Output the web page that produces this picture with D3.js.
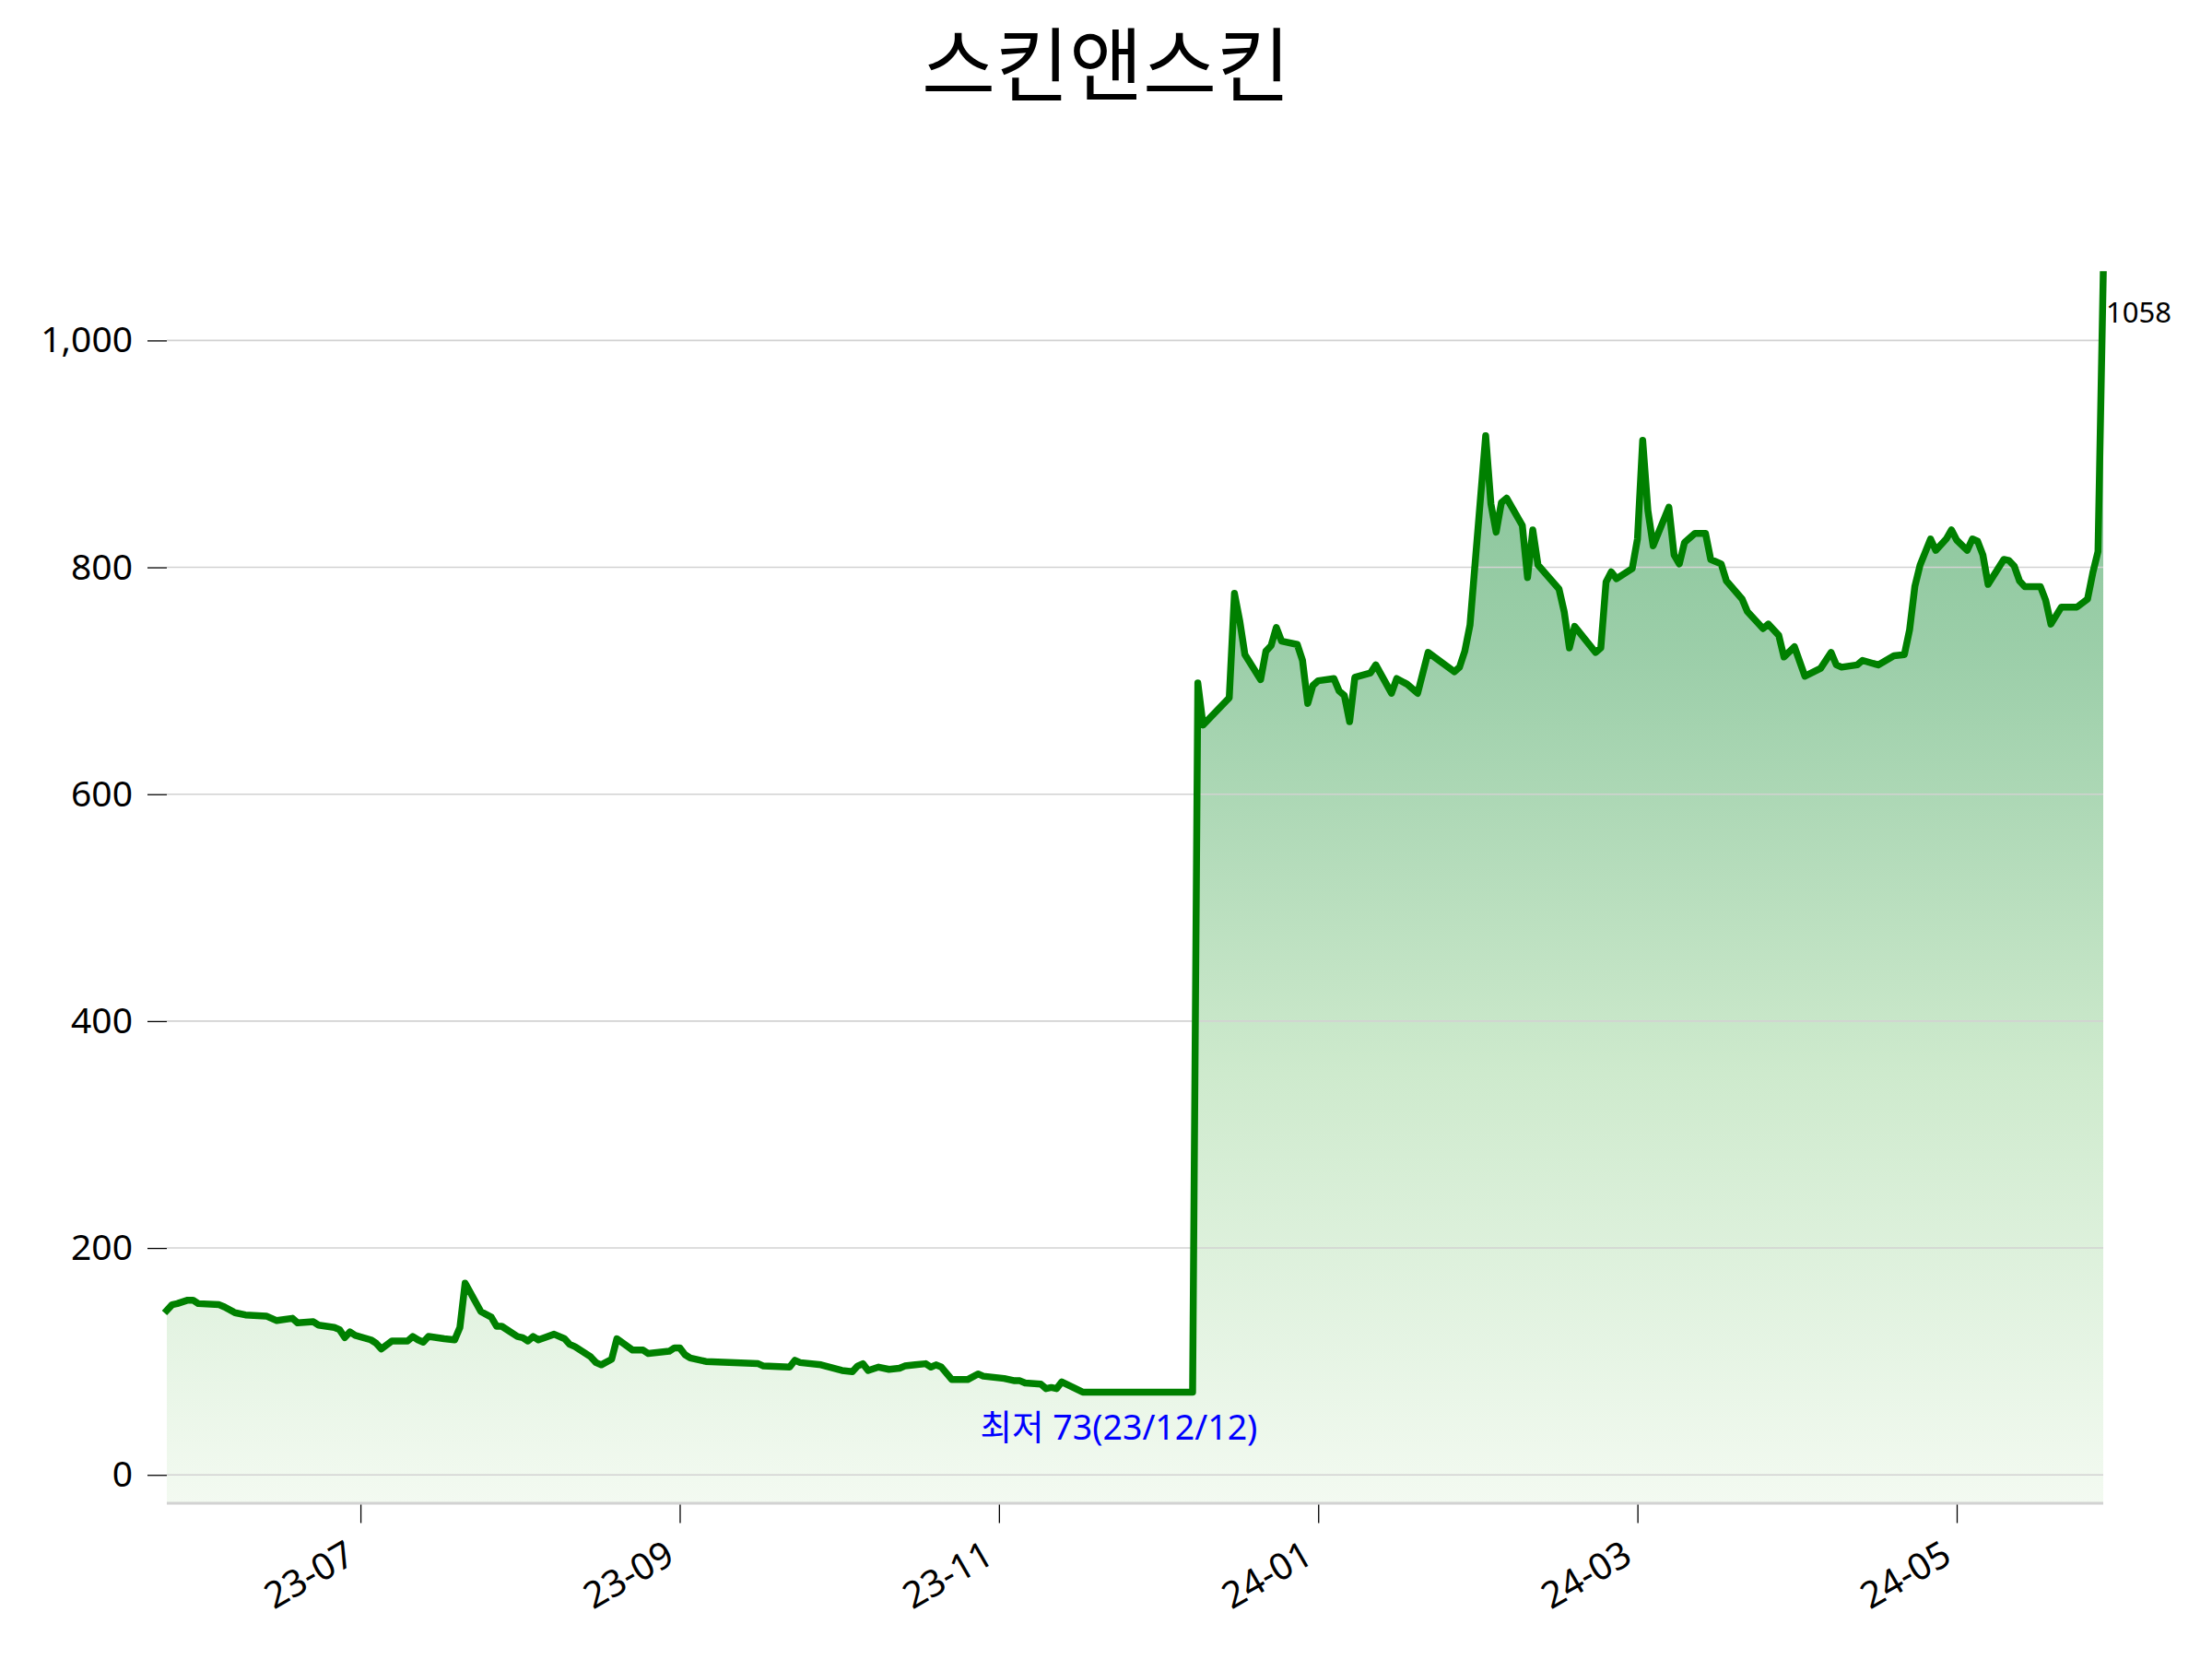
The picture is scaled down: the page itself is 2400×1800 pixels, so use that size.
<!DOCTYPE html>
<html>
<head>
<meta charset="utf-8">
<script src="https://cdn.jsdelivr.net/npm/d3@7"></script>
<style>
  html, body { margin: 0; padding: 0; background: #ffffff; }
  svg { display: block; }
</style>
</head>
<body>
<svg id="chart" width="2400" height="1800"></svg>
<script>
// ---------------- data ----------------
const chartTitle = "스킨앤스킨";
const minLabelWord = "최저";

const dates = [
  "2023-05-30","2023-05-31","2023-06-01","2023-06-03","2023-06-04","2023-06-05","2023-06-09","2023-06-10","2023-06-12",
  "2023-06-14","2023-06-18","2023-06-19","2023-06-20","2023-06-23","2023-06-24","2023-06-27","2023-06-28",
  "2023-07-01","2023-07-02","2023-07-03","2023-07-04","2023-07-05","2023-07-08","2023-07-09","2023-07-10",
  "2023-07-12","2023-07-15","2023-07-16","2023-07-17","2023-07-18","2023-07-19","2023-07-22","2023-07-24",
  "2023-07-25","2023-07-26","2023-07-29","2023-07-31","2023-08-01","2023-08-02","2023-08-05","2023-08-06",
  "2023-08-07","2023-08-08","2023-08-09","2023-08-12","2023-08-14","2023-08-15","2023-08-16","2023-08-19",
  "2023-08-20","2023-08-21","2023-08-23","2023-08-24","2023-08-27","2023-08-29","2023-08-30","2023-09-03",
  "2023-09-04","2023-09-05","2023-09-06","2023-09-07","2023-09-10","2023-09-20","2023-09-21","2023-09-26",
  "2023-09-27","2023-09-28","2023-10-02","2023-10-06","2023-10-08","2023-10-09","2023-10-10","2023-10-11",
  "2023-10-13","2023-10-15","2023-10-17","2023-10-18","2023-10-20","2023-10-22","2023-10-23","2023-10-24",
  "2023-10-25","2023-10-27","2023-10-30","2023-11-01","2023-11-02","2023-11-06","2023-11-08","2023-11-09",
  "2023-11-10","2023-11-13","2023-11-14","2023-11-15","2023-11-16","2023-11-17","2023-11-21","2023-12-12",
  "2023-12-13","2023-12-14","2023-12-19","2023-12-20","2023-12-21","2023-12-22","2023-12-25","2023-12-26",
  "2023-12-27","2023-12-28","2023-12-29","2024-01-01","2024-01-02","2024-01-03","2024-01-04","2024-01-05",
  "2024-01-08","2024-01-09","2024-01-10","2024-01-11","2024-01-12","2024-01-15","2024-01-16","2024-01-19",
  "2024-01-20","2024-01-22","2024-01-24","2024-01-26","2024-01-31","2024-02-01","2024-02-02","2024-02-03",
  "2024-02-06","2024-02-07","2024-02-08","2024-02-09","2024-02-10","2024-02-13","2024-02-14","2024-02-15",
  "2024-02-16","2024-02-20","2024-02-21","2024-02-22","2024-02-23","2024-02-27","2024-02-28","2024-02-29",
  "2024-03-01","2024-03-02","2024-03-05","2024-03-06","2024-03-07","2024-03-08","2024-03-09","2024-03-12",
  "2024-03-13","2024-03-14","2024-03-15","2024-03-17","2024-03-19","2024-03-20","2024-03-22","2024-03-23",
  "2024-03-26","2024-03-27","2024-03-30","2024-03-31","2024-04-02","2024-04-03","2024-04-05","2024-04-07",
  "2024-04-10","2024-04-12","2024-04-13","2024-04-14","2024-04-17","2024-04-18","2024-04-21","2024-04-24",
  "2024-04-26","2024-04-27","2024-04-28","2024-04-29","2024-05-01","2024-05-02","2024-05-04","2024-05-05",
  "2024-05-06","2024-05-08","2024-05-09","2024-05-10","2024-05-11","2024-05-12","2024-05-15","2024-05-16",
  "2024-05-17","2024-05-18","2024-05-19","2024-05-22","2024-05-23","2024-05-24","2024-05-26","2024-05-29",
  "2024-05-31","2024-06-01","2024-06-02","2024-06-03"
];

const prices = [
  145,150,151,154,154,151,150,148,143,
  141,140,138,136,138,134,135,132,
  130,128,121,126,123,119,116,111,
  118,118,122,119,117,122,120,119,
  130,169,144,139,131,131,122,121,
  118,122,119,124,120,115,113,104,
  99,97,102,120,110,110,107,109,
  112,112,106,103,100,98,96,95,
  101,99,97,92,91,96,98,92,
  95,93,94,96,97,98,95,97,
  95,84,84,89,87,85,83,83,
  81,80,76,77,76,82,73,73,
  698,661,685,777,753,723,701,726,
  731,747,735,732,718,680,696,700,
  702,691,687,664,703,707,714,689,
  702,697,689,725,708,712,726,749,
  916,856,831,857,861,837,791,833,
  802,781,761,729,748,725,729,787,
  796,790,799,825,912,850,819,853,
  811,803,822,830,830,807,803,788,
  772,761,746,750,740,721,730,704,
  711,725,714,712,714,718,714,722,
  723,745,783,802,825,815,825,833,
  824,815,825,823,811,785,807,806,
  801,788,783,783,771,750,765,765,
  772,795,814,1058
];

const yTicks = [0, 200, 400, 600, 800, 1000];
const xTickDates = ["2023-07-06", "2023-09-05", "2023-11-05", "2024-01-05", "2024-03-06", "2024-05-06"];
const yFloor = -25;

// ---------------- drawing ----------------
const parse = d3.timeParse("%Y-%m-%d");
const data = dates.map((d, i) => ({ date: parse(d), value: prices[i] }));

const svg = d3.select("#chart");
const plotLeft = 181, plotRight = 2282, plotBottom = 1631, plotTop = 298;
const fontLatin = "'Noto Sans', 'Noto Sans CJK KR', sans-serif";

svg.append("rect").attr("width", 2400).attr("height", 1800).attr("fill", "#ffffff");

const x = d3.scaleTime()
  .domain(d3.extent(data, d => d.date))
  .range([plotLeft, plotRight]);
const y = d3.scaleLinear()
  .domain([yFloor, d3.max(prices)])
  .range([plotBottom, plotTop]);

// gradient fill
const defs = svg.append("defs");
const grad = defs.append("linearGradient")
  .attr("id", "fillGrad")
  .attr("gradientUnits", "userSpaceOnUse")
  .attr("x1", 0).attr("x2", 0)
  .attr("y1", y(d3.max(prices))).attr("y2", y(yFloor));
grad.append("stop").attr("offset", "0%").attr("stop-color", "rgb(122,190,142)");
grad.append("stop").attr("offset", "32%").attr("stop-color", "rgb(157,207,170)");
grad.append("stop").attr("offset", "65%").attr("stop-color", "rgb(206,234,205)");
grad.append("stop").attr("offset", "100%").attr("stop-color", "rgb(243,250,241)");

const area = d3.area()
  .x(d => x(d.date))
  .y0(y(yFloor))
  .y1(d => y(d.value));
svg.append("path")
  .datum(data)
  .attr("d", area)
  .attr("fill", "url(#fillGrad)");

// gridlines
svg.append("g").selectAll("line")
  .data(yTicks)
  .join("line")
  .attr("x1", plotLeft).attr("x2", plotRight)
  .attr("y1", d => y(d)).attr("y2", d => y(d))
  .attr("stroke", "#d2d2d2")
  .attr("stroke-width", 1.6);

// bottom spine
svg.append("line")
  .attr("x1", plotLeft).attr("x2", plotRight)
  .attr("y1", plotBottom).attr("y2", plotBottom)
  .attr("stroke", "#d2d2d2")
  .attr("stroke-width", 3);

// y axis
const yAxis = svg.append("g")
  .attr("transform", `translate(${plotLeft},0)`)
  .call(d3.axisLeft(y).tickValues(yTicks).tickSize(21).tickPadding(16).tickFormat(d3.format(",")));
yAxis.select(".domain").remove();
yAxis.selectAll(".tick line").attr("stroke", "#000").attr("stroke-width", 1.3);
yAxis.selectAll(".tick text")
  .attr("font-family", fontLatin)
  .attr("font-size", 39)
  .attr("fill", "#000");

// x axis
const xAxis = svg.append("g")
  .attr("transform", `translate(0,${plotBottom + 1.5})`)
  .call(d3.axisBottom(x).tickValues(xTickDates.map(parse)).tickSize(20).tickFormat(d3.timeFormat("%y-%m")));
xAxis.select(".domain").remove();
xAxis.selectAll(".tick line").attr("stroke", "#000").attr("stroke-width", 1.3);
xAxis.selectAll(".tick text")
  .attr("font-family", fontLatin)
  .attr("font-size", 40)
  .attr("fill", "#000")
  .attr("y", null)
  .attr("dy", null)
  .attr("text-anchor", "end")
  .attr("transform", "translate(-4,62) rotate(-30)");

// line
const line = d3.line()
  .x(d => x(d.date))
  .y(d => y(d.value));
svg.append("path")
  .datum(data)
  .attr("d", line)
  .attr("fill", "none")
  .attr("stroke", "#008000")
  .attr("stroke-width", 7.5)
  .attr("stroke-linejoin", "round")
  .attr("stroke-linecap", "square");

// min annotation (last occurrence of the minimum)
const minVal = d3.min(prices);
let minIdx = 0;
prices.forEach((v, i) => { if (v <= minVal) minIdx = i; });
const minDate = data[minIdx].date;
svg.append("text")
  .attr("x", x(minDate) - 80)
  .attr("y", y(minVal) + 52)
  .attr("text-anchor", "middle")
  .attr("font-family", fontLatin)
  .attr("font-size", 37.5)
  .attr("fill", "#0000ff")
  .text(`${minLabelWord} ${minVal}(${d3.timeFormat("%y/%m/%d")(minDate)})`);

// last value annotation
const lastPt = data[data.length - 1];
svg.append("text")
  .attr("x", x(lastPt.date) + 3)
  .attr("y", y(lastPt.value) + 52)
  .attr("text-anchor", "start")
  .attr("font-family", fontLatin)
  .attr("font-size", 31)
  .attr("fill", "#000")
  .text(`${lastPt.value}`);

// title
svg.append("text")
  .attr("x", 1200)
  .attr("y", 103)
  .attr("text-anchor", "middle")
  .attr("font-family", "'Noto Sans CJK KR', sans-serif")
  .attr("font-size", 87)
  .attr("fill", "#000")
  .text(chartTitle);
</script>
</body>
</html>
